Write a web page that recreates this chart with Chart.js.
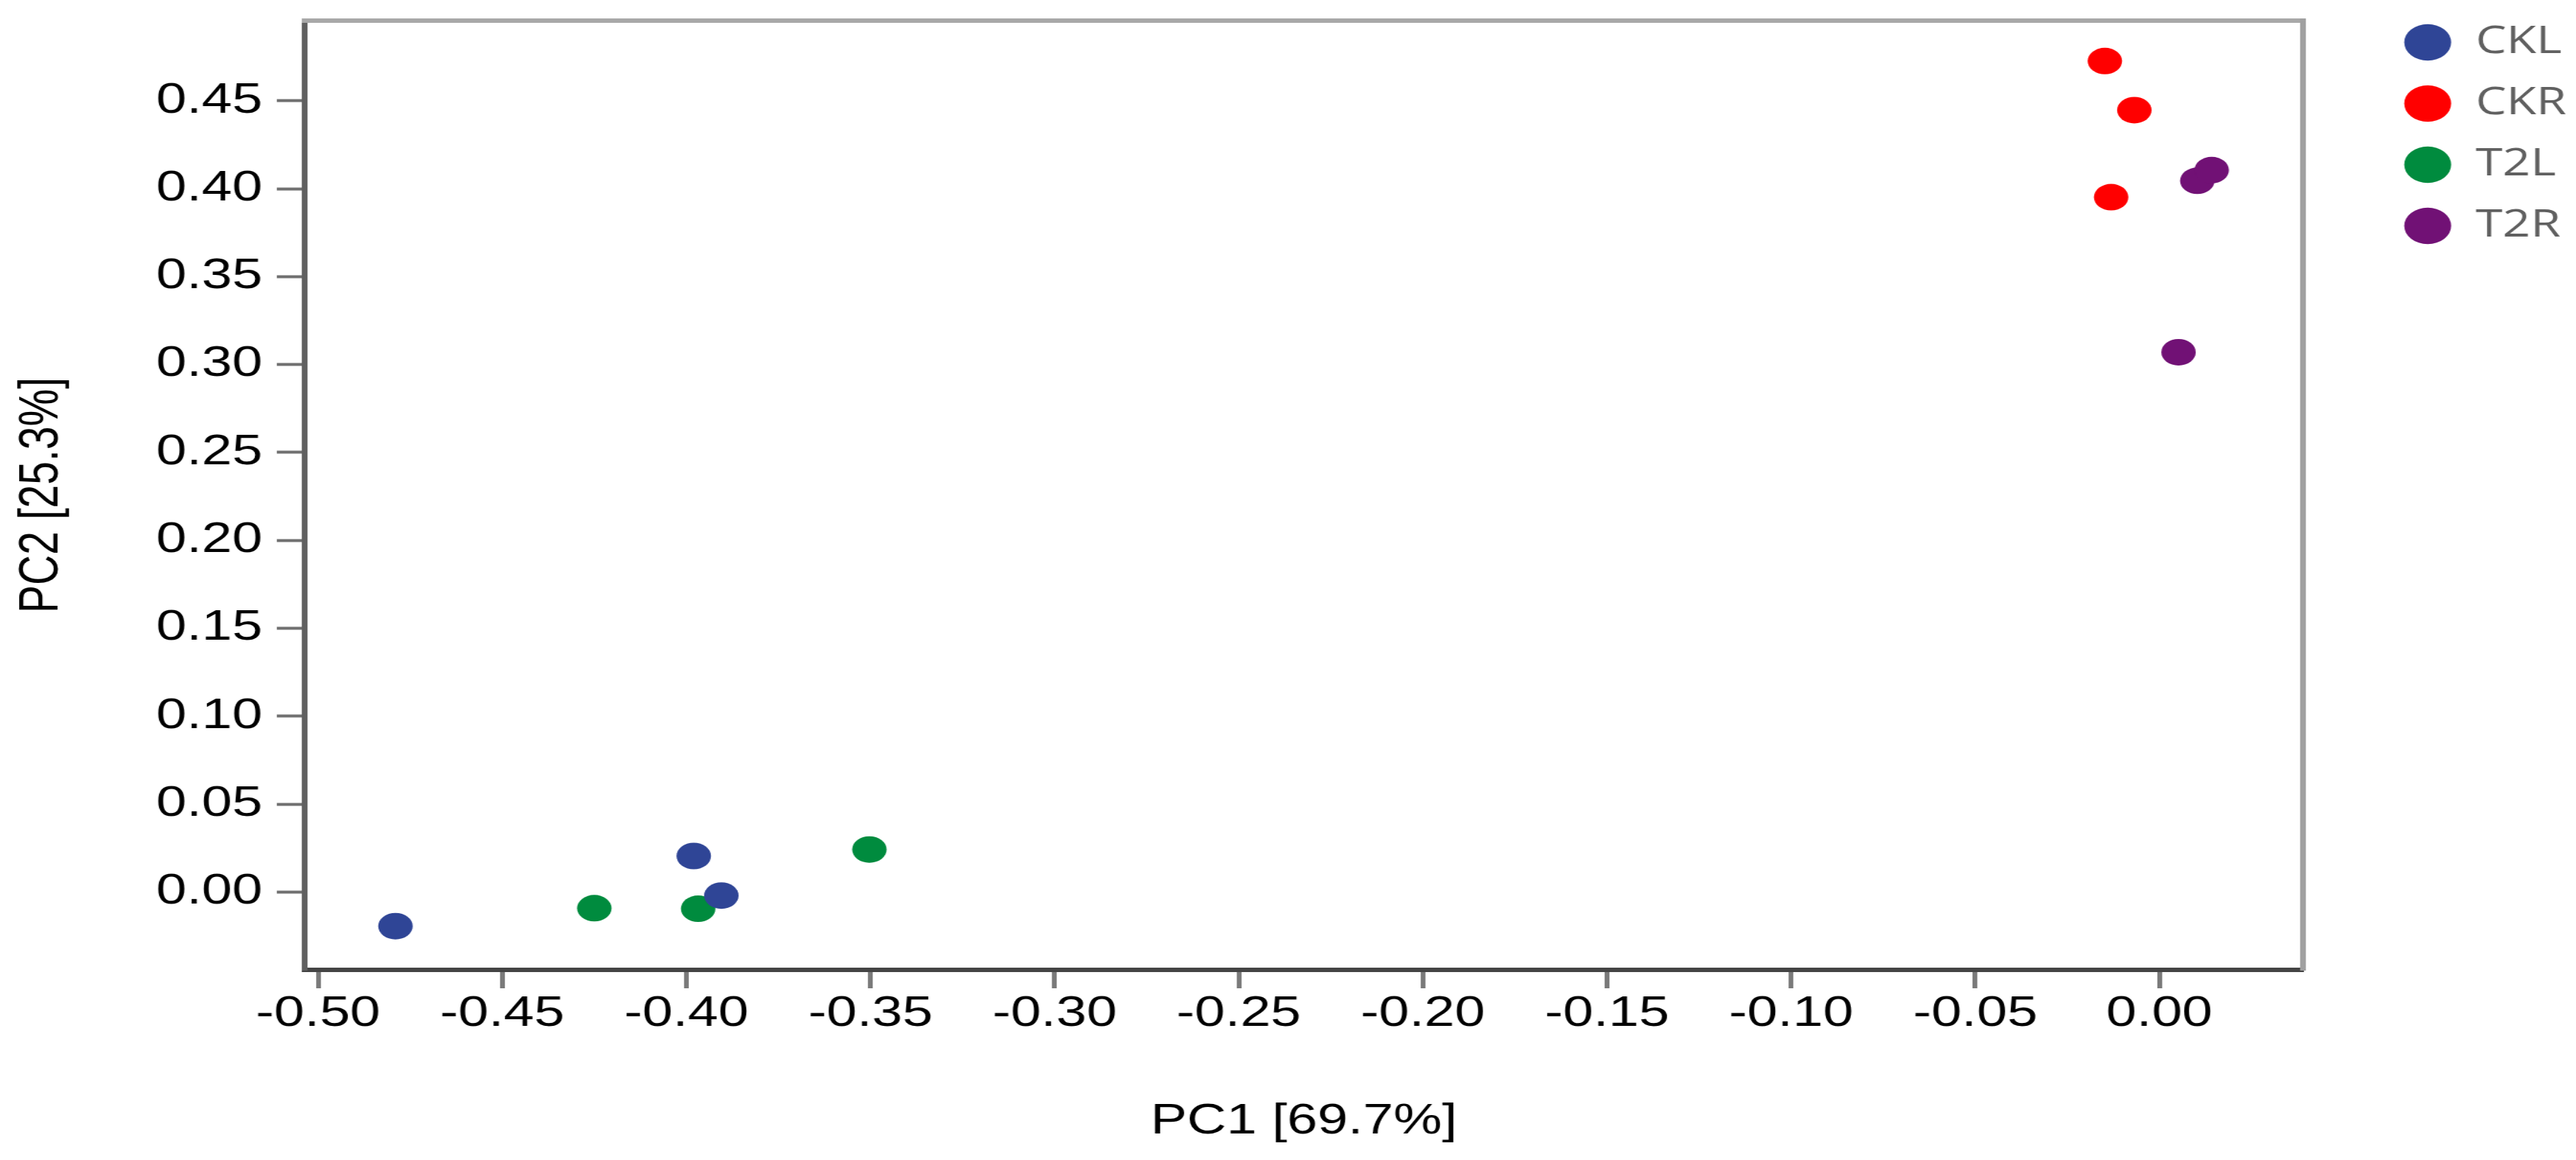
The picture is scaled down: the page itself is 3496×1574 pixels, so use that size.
<!DOCTYPE html>
<html>
<head>
<meta charset="utf-8">
<script src="https://cdn.jsdelivr.net/npm/chart.js@4.4.1/dist/chart.umd.min.js"></script>
<style>
  html, body { margin: 0; padding: 0; background: #fff; overflow: hidden; }
  /* the original figure is stretched horizontally, so draw narrower and stretch */
  #wrap { width: 2689px; height: 1574px; transform: scaleX(1.30011); transform-origin: 0 0; }
</style>
</head>
<body>
<div id="wrap"><canvas id="pcaChart" width="2689" height="1574" style="width:2689px;height:1574px"></canvas></div>
<script>
// PCA scores
const groups = ['CKL', 'CKR', 'T2L', 'T2R'];
const colors = ['#2f4596', '#ff0000', '#008b3e', '#711175'];

const cklPC1 = [-0.479, -0.398, -0.3905];
const cklPC2 = [-0.0194, 0.0205, -0.002];
const ckrPC1 = [-0.0148, -0.0068, -0.0131];
const ckrPC2 = [0.4726, 0.4447, 0.3952];
const t2lPC1 = [-0.425, -0.3968, -0.3503];
const t2lPC2 = [-0.0092, -0.0095, 0.0242];
const t2rPC1 = [0.0103, 0.0142, 0.0052];
const t2rPC2 = [0.4045, 0.4106, 0.307];

const xTickValues = [-0.50, -0.45, -0.40, -0.35, -0.30, -0.25, -0.20, -0.15, -0.10, -0.05, 0.00];
const yTickValues = [0.00, 0.05, 0.10, 0.15, 0.20, 0.25, 0.30, 0.35, 0.40, 0.45];

const pc1 = [cklPC1, ckrPC1, t2lPC1, t2rPC1];
const pc2 = [cklPC2, ckrPC2, t2lPC2, t2rPC2];

const PLOT_RIGHT = 2404;
const tickFont = { family: 'Liberation Sans, Arial, sans-serif', size: 57 };
const titleFont = { family: 'Liberation Sans, Arial, sans-serif', size: 57 };

function fmt(v) {
    if (Math.abs(v) < 1e-9) v = 0;
    return v.toFixed(2);
}

const datasets = groups.map((g, i) => ({
    label: g,
    data: pc1[i].map((x, j) => ({ x: x, y: pc2[i][j] })),
    backgroundColor: colors[i],
    borderColor: colors[i],
    borderWidth: 0,
    pointRadius: 18,
    pointHoverRadius: 18,
    pointStyle: 'circle'
}));

const ctx = document.getElementById('pcaChart').getContext('2d');
const pcaChart = new Chart(ctx, {
    type: 'scatter',
    data: { datasets: datasets },
    options: {
        responsive: false,
        animation: false,
        devicePixelRatio: 1,
        layout: { padding: 0 },
        plugins: {
            tooltip: { enabled: false },
            legend: {
                position: 'right',
                align: 'start',
                labels: {
                    usePointStyle: true,
                    pointStyle: 'circle',
                    pointStyleWidth: 49,
                    boxHeight: 35,
                    padding: 32,
                    color: '#606060',
                    font: { family: 'Open Sans, sans-serif', size: 51 }
                }
            }
        },
        scales: {
            x: {
                type: 'linear',
                position: 'bottom',
                min: -0.50366,
                max: 0.039,
                afterBuildTicks: s => { s.ticks = xTickValues.map(v => ({ value: v })); },
                afterFit: s => { s.height = 258; s.paddingLeft = 0; s.paddingRight = 0; },
                ticks: {
                    color: '#000',
                    font: tickFont,
                    padding: 1,
                    autoSkip: false,
                    maxRotation: 0,
                    callback: v => fmt(v)
                },
                grid: {
                    drawOnChartArea: false,
                    tickLength: 25,
                    tickWidth: 5,
                    tickColor: '#7a7a7a'
                },
                border: { color: '#444', width: 6 },
                title: {
                    display: true,
                    text: 'PC1 [69.7%]',
                    color: '#000',
                    font: titleFont,
                    padding: { top: 0, bottom: 18 }
                }
            },
            y: {
                type: 'linear',
                position: 'left',
                min: -0.04426,
                max: 0.4956,
                afterBuildTicks: s => { s.ticks = yTickValues.map(v => ({ value: v })); },
                afterFit: s => { s.width = 318; s.paddingTop = 0; s.paddingBottom = 0; },
                ticks: {
                    color: '#000',
                    font: tickFont,
                    padding: 15,
                    autoSkip: false,
                    callback: v => fmt(v)
                },
                grid: {
                    drawOnChartArea: false,
                    tickLength: 29,
                    tickWidth: 4,
                    tickColor: '#707070'
                },
                border: { color: '#606060', width: 6 },
                title: {
                    display: true,
                    text: 'PC2 [25.3%]',
                    color: '#000',
                    font: titleFont,
                    padding: { top: 10, bottom: 0 }
                }
            },
            // empty axes that only draw the top and right frame lines
            xTop: {
                type: 'linear',
                axis: 'x',
                position: 'top',
                afterFit: s => { s.height = 28; },
                ticks: { display: false },
                grid: { display: false },
                border: { color: '#a8a8a8', width: 6 }
            },
            yRight: {
                type: 'linear',
                axis: 'y',
                position: 'right',
                afterFit: s => { s.width = Math.max(0, s.chart.width - PLOT_RIGHT - s.chart.legend.width); },
                ticks: { display: false },
                grid: { display: false },
                border: { color: '#a0a0a0', width: 6 }
            }
        }
    }
});
</script>
</body>
</html>
